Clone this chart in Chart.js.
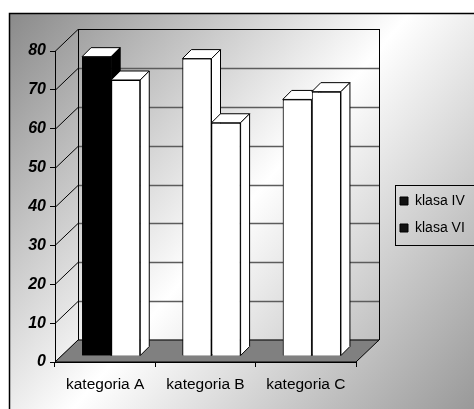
<!DOCTYPE html>
<html>
<head>
<meta charset="utf-8">
<script src="https://cdn.jsdelivr.net/npm/chart.js@4.4.1/dist/chart.umd.min.js"></script>
<style>
  body { margin: 0; background: #fff; }
  canvas { display: block; }
</style>
</head>
<body>
<canvas id="wykres" width="474" height="409"></canvas>
<script>
var kategorie = ["kategoria A", "kategoria B", "kategoria C"];
var klasaIV = [77, 76.5, 66];
var klasaVI = [71, 60, 68];
var kolorIV = ["#000000", "#ffffff", "#ffffff"];
var kolorVI = ["#ffffff", "#ffffff", "#ffffff"];
var etykietyLegendy = ["klasa IV", "klasa VI"];
var yMax = 80;
var yKrok = 10;

var czcionka = "'Liberation Sans', Arial, sans-serif";

// efekt 3D: tyl scian, przod slupka, glebokosc slupka
var DX = 23, DY = -22;
var SX = 6, SY = -6;
var GX = 9, GY = -9;

var tlo3d = {
  id: "tlo3d",
  beforeDraw: function (chart) {
    var ctx = chart.ctx;
    var w = chart.width, h = chart.height;
    ctx.save();
    ctx.fillStyle = "#fff";
    ctx.fillRect(0, 0, w, h);
    var g = ctx.createLinearGradient(9, 13, w, h);
    g.addColorStop(0, "#8a8a8a");
    g.addColorStop(0.5, "#ffffff");
    g.addColorStop(1, "#999999");
    ctx.fillStyle = g;
    ctx.fillRect(9, 13, w, h);
    ctx.strokeStyle = "#000";
    ctx.lineWidth = 1.5;
    ctx.strokeRect(9.5, 13.5, w + 10, h + 10);

    var a = chart.chartArea;
    var sy = chart.scales.y;
    ctx.lineWidth = 1;
    for (var v = 0; v <= yMax; v += yKrok) {
      var py = Math.round(sy.getPixelForValue(v)) + 0.5;
      // sciana boczna
      ctx.strokeStyle = "#000";
      ctx.beginPath();
      ctx.moveTo(a.left, py);
      ctx.lineTo(a.left + DX, py + DY);
      ctx.stroke();
      // sciana tylna
      ctx.strokeStyle = v === yMax ? "#000" : "#5c5c5c";
      ctx.lineWidth = v === yMax ? 1 : 1.3;
      ctx.beginPath();
      ctx.moveTo(a.left + DX, py + DY);
      ctx.lineTo(a.right + DX, py + DY);
      ctx.stroke();
      ctx.lineWidth = 1;
    }
    ctx.strokeStyle = "#000";
    ctx.beginPath();
    ctx.moveTo(Math.round(a.left + DX) + 0.5, a.top + DY);
    ctx.lineTo(Math.round(a.left + DX) + 0.5, a.bottom + DY);
    ctx.moveTo(Math.round(a.right + DX) + 0.5, a.top + DY);
    ctx.lineTo(Math.round(a.right + DX) + 0.5, a.bottom + DY);
    ctx.stroke();
    // podloga
    ctx.beginPath();
    ctx.moveTo(a.left, a.bottom);
    ctx.lineTo(a.right, a.bottom);
    ctx.lineTo(a.right + DX, a.bottom + DY);
    ctx.lineTo(a.left + DX, a.bottom + DY);
    ctx.closePath();
    ctx.fillStyle = "#808080";
    ctx.fill();
    ctx.stroke();
    ctx.restore();
  }
};

var slupki3d = {
  id: "slupki3d",
  beforeDatasetsDraw: function (chart) {
    chart.ctx.save();
    chart.ctx.translate(SX, SY);
  },
  afterDatasetsDraw: function (chart) {
    var ctx = chart.ctx;
    var lista = [];
    chart.data.datasets.forEach(function (ds, i) {
      chart.getDatasetMeta(i).data.forEach(function (el, j) {
        lista.push({ el: el, kolor: ds.backgroundColor[j] });
      });
    });
    lista.sort(function (p, q) { return p.el.x - q.el.x; });
    lista.forEach(function (p) {
      var el = p.el;
      el.draw(ctx);
      var x0 = el.x - el.width / 2, x1 = el.x + el.width / 2;
      var yt = el.y, yb = el.base;
      ctx.lineWidth = 1;
      ctx.strokeStyle = "#000";
      // gora slupka
      ctx.beginPath();
      ctx.moveTo(x0, yt);
      ctx.lineTo(x0 + GX, yt + GY);
      ctx.lineTo(x1 + GX, yt + GY);
      ctx.lineTo(x1, yt);
      ctx.closePath();
      ctx.fillStyle = "#fff";
      ctx.fill();
      ctx.stroke();
      // bok slupka
      ctx.beginPath();
      ctx.moveTo(x1, yt);
      ctx.lineTo(x1 + GX, yt + GY);
      ctx.lineTo(x1 + GX, yb + GY);
      ctx.lineTo(x1, yb);
      ctx.closePath();
      ctx.fillStyle = p.kolor;
      ctx.fill();
      ctx.stroke();
    });
    ctx.restore();
  }
};

// legenda troche wyzej, jak w oryginale
var legendaWyzej = {
  id: "legendaWyzej",
  afterLayout: function (chart) {
    chart.legend.top -= 7;
    chart.legend.bottom -= 7;
  }
};

var ramkaLegendy = {
  id: "ramkaLegendy",
  afterDraw: function (chart) {
    var hb = chart.legend.legendHitBoxes;
    if (!hb || !hb.length) return;
    var ctx = chart.ctx;
    var ostatni = hb[hb.length - 1];
    var top = Math.round(hb[0].top - 9) + 0.5;
    var bottom = Math.round(ostatni.top + ostatni.height + 10) + 0.5;
    var left = Math.round(hb[0].left - 5) + 0.5;
    ctx.save();
    ctx.strokeStyle = "#000";
    ctx.lineWidth = 1;
    ctx.strokeRect(left, top, chart.width, bottom - top);
    ctx.restore();
  }
};

new Chart(document.getElementById("wykres"), {
  type: "bar",
  data: {
    labels: kategorie,
    datasets: [
      {
        label: etykietyLegendy[0],
        data: klasaIV,
        backgroundColor: kolorIV,
        borderColor: "#000",
        borderWidth: 1,
        categoryPercentage: 0.58,
        barPercentage: 1,
      },
      {
        label: etykietyLegendy[1],
        data: klasaVI,
        backgroundColor: kolorVI,
        borderColor: "#000",
        borderWidth: 1,
        categoryPercentage: 0.58,
        barPercentage: 1,
      },
    ],
  },
  options: {
    responsive: false,
    animation: false,
    devicePixelRatio: 1,
    layout: { padding: { top: 51, bottom: 17, left: 0, right: 0 } },
    plugins: {
      tooltip: { enabled: false },
      legend: {
        position: "right",
        maxWidth: 87,
        labels: {
          boxWidth: 8,
          boxHeight: 8,
          padding: 13,
          color: "#000",
          font: { family: czcionka, size: 14 },
          generateLabels: function () {
            return etykietyLegendy.map(function (t, i) {
              return { text: t, fillStyle: "#111", strokeStyle: "#000", lineWidth: 1, datasetIndex: i, hidden: false };
            });
          },
        },
      },
    },
    scales: {
      x: {
        grid: { drawOnChartArea: false, tickLength: 5, color: "#000", offset: true },
        border: { color: "#000", width: 1 },
        ticks: { color: "#000", padding: 8, font: { family: czcionka, size: 15.5 } },
        afterFit: function (s) { s.height = 30; },
      },
      y: {
        min: 0,
        max: yMax,
        ticks: { stepSize: yKrok, color: "#000", padding: 4, font: { family: czcionka, size: 16, weight: "bold", style: "italic" } },
        grid: { drawOnChartArea: false, tickLength: 5, color: "#000" },
        border: { color: "#000", width: 1 },
        afterFit: function (s) { s.width = 55; },
      },
      prawa: {
        type: "linear",
        position: "right",
        display: true,
        grid: { display: false },
        ticks: { display: false },
        border: { display: false },
        afterFit: function (s) { s.width = 31; },
      },
    },
  },
  plugins: [tlo3d, slupki3d, legendaWyzej, ramkaLegendy],
});
</script>
</body>
</html>
